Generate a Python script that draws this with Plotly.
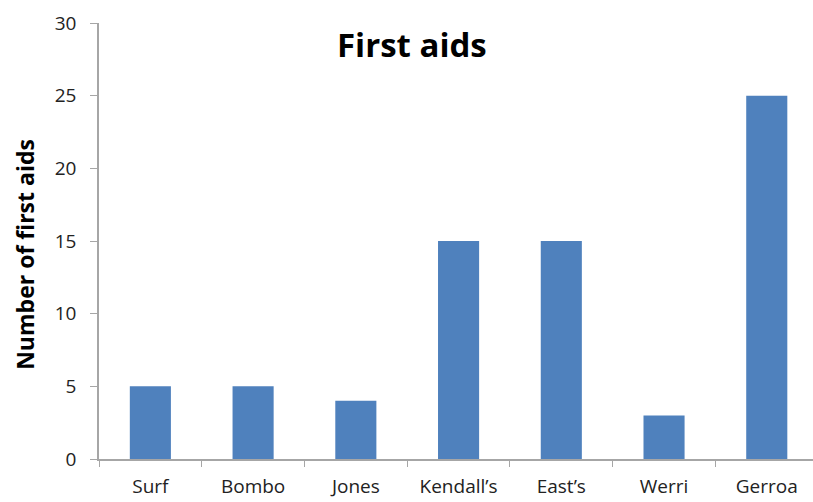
import plotly.graph_objects as go

categories = ["Surf", "Bombo", "Jones", "Kendall’s", "East’s", "Werri", "Gerroa"]
values = [5, 5, 4, 15, 15, 3, 25]
y_ticks = [0, 5, 10, 15, 20, 25, 30]

fig = go.Figure(go.Bar(x=categories, y=values, marker=dict(color="#4f81bd", line=dict(width=0)), width=0.4))

font_family = "Open Sans, Liberation Sans, sans-serif"

fig.update_layout(
    width=813, height=502,
    margin=dict(l=99, r=0, t=23, b=43),
    paper_bgcolor="white", plot_bgcolor="white",
    showlegend=False,
    font=dict(family=font_family, color="#333333"),
    annotations=[
        dict(text="<b>First aids</b>", x=0.438, y=0.95, xref="paper", yref="paper",
             showarrow=False, font=dict(size=33, color="black", family=font_family),
             xanchor="center", yanchor="middle"),
        dict(text="<b>Number of first aids</b>", x=-0.104, y=0.47, xref="paper", yref="paper",
             showarrow=False, textangle=-90, font=dict(size=23, color="black", family=font_family),
             xanchor="center", yanchor="middle"),
    ],
)
fig.update_xaxes(
    range=[-0.5, 6.45], showline=True, linecolor="#a6a6a6", linewidth=1.5,
    ticks="outside", tickson="boundaries", ticklen=6, tickcolor="#a6a6a6",
    tickfont=dict(size=19, color="#222222"), ticklabelstandoff=9,
    showgrid=False, fixedrange=True,
)
fig.update_yaxes(
    range=[0, 30], tickvals=y_ticks, showline=True, linecolor="#a6a6a6", linewidth=1.5,
    ticks="outside", ticklen=7, tickcolor="#a6a6a6", showgrid=False, zeroline=False,
    tickfont=dict(size=19, color="#222222"), ticklabelstandoff=10,
)

fig.write_html("out.html")
